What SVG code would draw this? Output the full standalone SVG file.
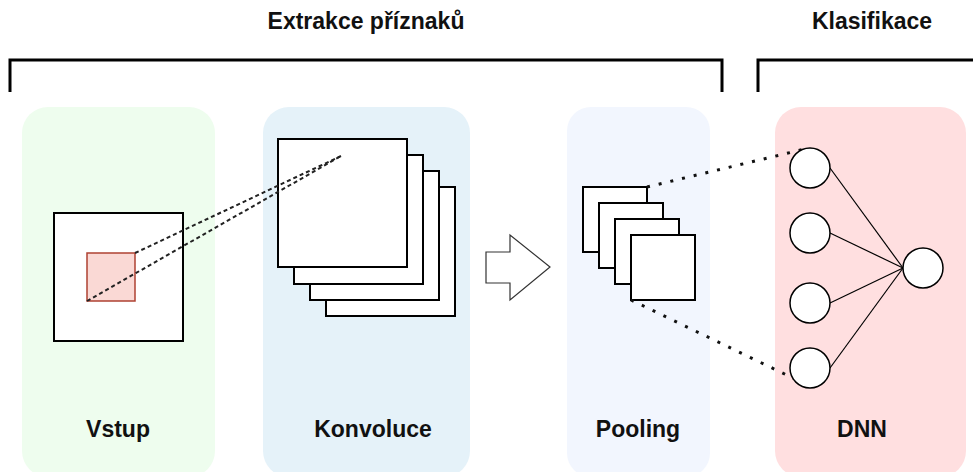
<svg xmlns="http://www.w3.org/2000/svg" width="973" height="472" viewBox="0 0 973 472">
  <style>
    .title { font-family: "Liberation Sans", Arial, sans-serif; font-weight: bold; font-size: 23px; fill: #111; text-anchor: middle; }
    .bracket { fill: none; stroke: #000; stroke-width: 3; }
    .panel { stroke: none; }
    .sheet { fill: #fff; stroke: #000; stroke-width: 2; }
    .neuron { fill: #fff; stroke: #000; stroke-width: 1.5; }
    .dash { fill: none; stroke: #222; stroke-width: 2; stroke-dasharray: 4 3; }
    .dots { fill: none; stroke: #111; stroke-width: 3; stroke-dasharray: 3 9; }
    .edge { fill: none; stroke: #000; stroke-width: 1.2; }
  </style>

  <!-- section headings with brackets -->
  <g id="section-extraction">
    <text class="title" x="366" y="29">Extrakce příznaků</text>
    <path class="bracket" d="M10,92 V60 H722 V92"/>
  </g>
  <g id="section-classification">
    <text class="title" x="872" y="29">Klasifikace</text>
    <path class="bracket" d="M758,92 V60 H980"/>
  </g>

  <!-- input stage -->
  <g id="input">
    <rect class="panel" x="22" y="107" width="193" height="370" rx="26" fill="#EEFDEE"/>
    <rect x="54" y="213" width="129" height="128" fill="#fff" stroke="#000" stroke-width="2"/>
    <rect x="87" y="253" width="48" height="48" fill="#FAD9D5" stroke="#AE4132" stroke-width="1.5"/>
    <text class="title" x="118" y="437">Vstup</text>
  </g>

  <!-- convolution stage -->
  <g id="convolution">
    <rect class="panel" x="263" y="107" width="207" height="370" rx="26" fill="#E5F2F9"/>
    <rect class="sheet" x="326" y="187" width="129" height="129"/>
    <rect class="sheet" x="310" y="171" width="129" height="129"/>
    <rect class="sheet" x="294" y="155" width="129" height="129"/>
    <rect class="sheet" x="278" y="139" width="129" height="128"/>
    <text class="title" x="373" y="437">Konvoluce</text>
  </g>

  <!-- transition arrow -->
  <g id="arrow">
    <polygon points="486,252 510,252 510,235 550,267 510,300 510,283 486,283" fill="#fff" stroke="#333" stroke-width="1.2"/>
  </g>

  <!-- pooling stage -->
  <g id="pooling">
    <rect class="panel" x="567" y="107" width="143" height="370" rx="24" fill="#F2F6FE"/>
    <rect class="sheet" x="583" y="187" width="64" height="65"/>
    <rect class="sheet" x="599" y="203" width="64" height="65"/>
    <rect class="sheet" x="615" y="219" width="64" height="65"/>
    <rect class="sheet" x="631" y="235" width="64" height="65"/>
    <text class="title" x="638" y="437">Pooling</text>
  </g>

  <!-- dense network -->
  <g id="dnn">
    <rect class="panel" x="775" y="107" width="191" height="370" rx="26" fill="#FFDFE0"/>
    <text class="title" x="862" y="437">DNN</text>
  </g>

  <!-- connectors -->
  <g id="connectors">
    <line class="dash" x1="135" y1="253" x2="341" y2="156"/>
    <line class="dash" x1="87" y1="301" x2="341" y2="156"/>
    <line class="dots" x1="647" y1="187" x2="805" y2="149"/>
    <line class="dots" x1="631" y1="300" x2="797" y2="380"/>
    <line class="edge" x1="830" y1="168" x2="903" y2="268"/>
    <line class="edge" x1="830" y1="233" x2="903" y2="268"/>
    <line class="edge" x1="830" y1="303" x2="903" y2="268"/>
    <line class="edge" x1="830" y1="368" x2="903" y2="268"/>
  </g>

  <!-- neurons -->
  <g id="neurons">
    <circle class="neuron" cx="810" cy="168" r="20"/>
    <circle class="neuron" cx="810" cy="233" r="20"/>
    <circle class="neuron" cx="810" cy="303" r="20"/>
    <circle class="neuron" cx="810" cy="368" r="20"/>
    <circle class="neuron" cx="923" cy="268" r="20"/>
  </g>
</svg>
